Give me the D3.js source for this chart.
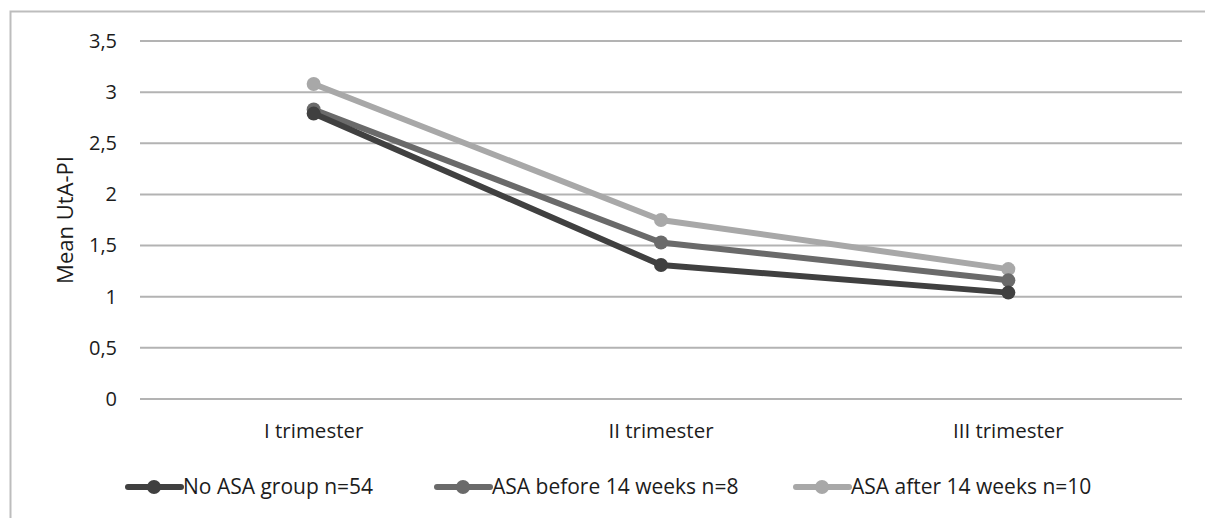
<!DOCTYPE html>
<html>
<head>
<meta charset="utf-8">
<script src="https://cdn.jsdelivr.net/npm/d3@7"></script>
<style>
  body { margin: 0; background: #fff; }
  text { font-family: "Open Sans", "Liberation Sans", sans-serif; }
</style>
</head>
<body>
<svg id="chart"></svg>
<script>
const categories = ['I trimester', 'II trimester', 'III trimester'];
const seriesNames = ['No ASA group n=54', 'ASA before 14 weeks n=8', 'ASA after 14 weeks n=10'];
const noAsa = [2.79, 1.31, 1.04];
const asaBefore = [2.83, 1.53, 1.16];
const asaAfter = [3.08, 1.75, 1.27];
const yTicks = [0, 0.5, 1, 1.5, 2, 2.5, 3, 3.5];
const colors = ['#404040', '#6a6a6a', '#a8a8a8'];
const legendX = [128, 437, 796];

const width = 1205;
const height = 518;
const margin = { top: 41, right: 23, bottom: 119, left: 140 };

const svg = d3.select('#chart').attr('width', width).attr('height', height);

// outer frame
svg.append('path')
  .attr('d', `M10.5,${height} V11.5 H${width}`)
  .attr('fill', 'none')
  .attr('stroke', '#bdbdbd')
  .attr('stroke-width', 2);

const x = d3.scaleBand()
  .domain(categories)
  .range([margin.left, width - margin.right]);

const y = d3.scaleLinear()
  .domain([0, 3.5])
  .range([height - margin.bottom, margin.top]);

// gridlines
svg.append('g')
  .selectAll('line')
  .data(yTicks)
  .join('line')
  .attr('x1', margin.left)
  .attr('x2', width - margin.right)
  .attr('y1', d => y(d))
  .attr('y2', d => y(d))
  .attr('stroke', '#b3b3b3')
  .attr('stroke-width', 2);

const yAxis = g => g
  .attr('transform', `translate(${margin.left},0)`)
  .call(d3.axisLeft(y).tickValues(yTicks).tickSize(0).tickPadding(23)
    .tickFormat(d => String(d).replace('.', ',')))
  .call(g => g.select('.domain').remove())
  .selectAll('text')
  .style('font-size', '20px')
  .attr('fill', '#1c1c1c');

const xAxis = g => g
  .attr('transform', `translate(0,${height - margin.bottom})`)
  .call(d3.axisBottom(x).tickSize(0).tickPadding(24))
  .call(g => g.select('.domain').remove())
  .selectAll('text')
  .style('font-size', '20.5px')
  .attr('fill', '#1c1c1c');

svg.append('g').call(yAxis);
svg.append('g').call(xAxis);

svg.append('text')
  .attr('transform', 'rotate(-90)')
  .attr('x', -220)
  .attr('y', 73)
  .attr('text-anchor', 'middle')
  .style('font-size', '22px')
  .attr('fill', '#1c1c1c')
  .text('Mean UtA-PI');

const line = d3.line()
  .x((d, i) => x(categories[i]) + x.bandwidth() / 2)
  .y(d => y(d));

const allSeries = [noAsa, asaBefore, asaAfter];

// draw lightest first so darker lines sit on top
[2, 1, 0].forEach(i => {
  const g = svg.append('g');
  g.append('path')
    .datum(allSeries[i])
    .attr('fill', 'none')
    .attr('stroke', colors[i])
    .attr('stroke-width', 6)
    .attr('stroke-linejoin', 'round')
    .attr('d', line);
  g.selectAll('circle')
    .data(allSeries[i])
    .join('circle')
    .attr('cx', (d, j) => x(categories[j]) + x.bandwidth() / 2)
    .attr('cy', d => y(d))
    .attr('r', 7)
    .attr('fill', colors[i]);
});

// legend
const legendY = 487;
seriesNames.forEach((name, i) => {
  const row = svg.append('g').attr('transform', `translate(${legendX[i]},${legendY})`);
  row.append('line')
    .attr('x1', 0).attr('x2', 53)
    .attr('stroke', colors[i])
    .attr('stroke-width', 6)
    .attr('stroke-linecap', 'round');
  row.append('circle')
    .attr('cx', 26).attr('r', 7)
    .attr('fill', colors[i]);
  row.append('text')
    .attr('x', 55)
    .attr('dy', '0.35em')
    .style('font-size', '21px')
    .attr('fill', '#1c1c1c')
    .text(name);
});
</script>
</body>
</html>
